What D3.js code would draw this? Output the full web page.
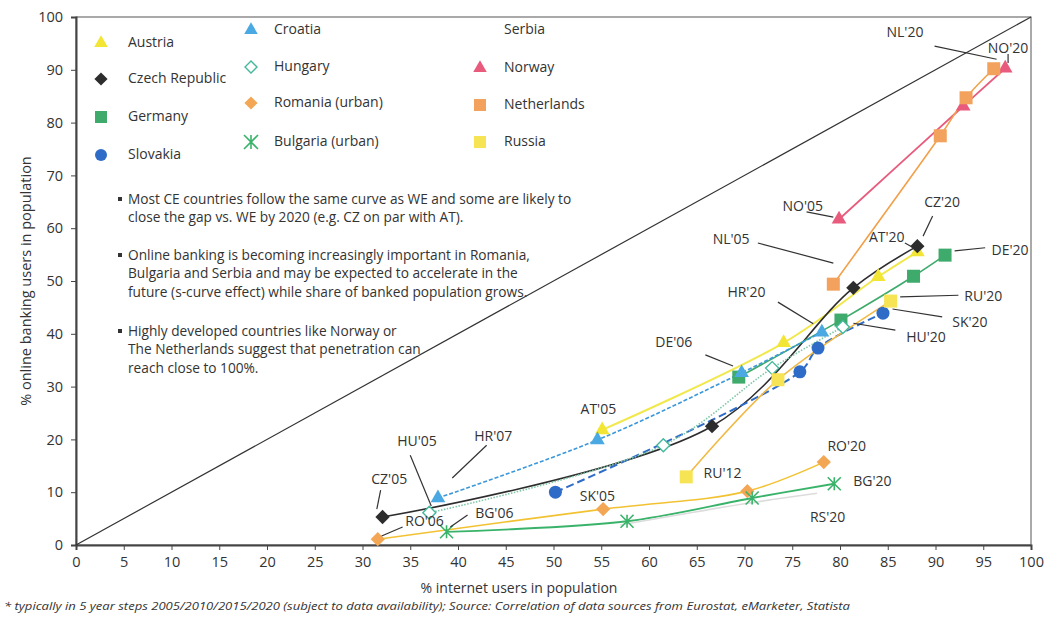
<!DOCTYPE html>
<html>
<head>
<meta charset="utf-8">
<script src="https://cdn.jsdelivr.net/npm/d3@7"></script>
<style>
body { margin: 0; background: #fff; }
svg text { font-family: "Open Sans", Lato, sans-serif; fill: #333; }
</style>
</head>
<body>
<script>
// values: [% internet users, % online banking users]
var austria = [[55.1, 21.8], [74.1, 38.3], [84.0, 50.8], [88.1, 55.5]];
var czech = [[32.1, 5.3], [66.6, 22.5], [81.4, 48.7], [88.1, 56.6]];
var germany = [[69.4, 31.8], [80.1, 42.6], [87.7, 50.9], [91.0, 54.9]];
var slovakia = [[50.2, 10.0], [75.8, 32.8], [77.7, 37.3], [84.5, 43.9]];
var croatia = [[37.9, 8.9], [54.6, 19.9], [69.7, 32.6], [78.1, 40.3]];
var hungary = [[37.0, 6.1], [61.5, 18.9], [72.9, 33.5], [80.3, 41.3]];
var romania = [[31.6, 1.1], [55.2, 6.8], [70.3, 10.2], [78.3, 15.7]];
var bulgaria = [[38.8, 2.5], [57.7, 4.5], [70.8, 8.9], [79.4, 11.6]];
var serbia = [[57.0, 3.8], [70.0, 7.8], [77.6, 9.8]];
var norway = [[79.9, 61.7], [92.9, 83.1], [97.3, 90.3]];
var netherlands = [[79.3, 49.4], [90.5, 77.5], [93.2, 84.7], [96.1, 90.2]];
var russia = [[63.9, 12.9], [73.5, 31.3], [85.3, 46.2]];

var xTicks = d3.range(0, 101, 5);
var yTicks = d3.range(0, 101, 10);

// label text, label position, leader line (data units)
var labels = [
	["NL'20", 86.8, 97.0, [89.9, 94.5, 96.4, 92.0]],
	["NO'20", 97.6, 93.9, [97.6, 93.0, 97.6, 91.3]],
	["NO'05", 76.1, 64.0, [76.5, 63.1, 79.3, 62.1]],
	["CZ'20", 90.7, 64.8, [89.7, 62.3, 88.7, 58.5]],
	["AT'20", 84.9, 58.1, [86.8, 57.2, 87.6, 56.4]],
	["DE'20", 97.8, 55.7, [92.0, 55.7, 95.2, 56.3]],
	["NL'05", 68.6, 57.8, [71.4, 57.2, 79.3, 53.4]],
	["HR'20", 70.2, 47.7, [73.5, 46.0, 77.2, 41.9]],
	["RU'20", 95.0, 47.0, [86.3, 47.0, 92.4, 47.3]],
	["SK'20", 93.6, 42.0, [85.5, 44.7, 90.7, 43.2]],
	["HU'20", 89.0, 39.2, [81.4, 42.0, 85.8, 40.7]],
	["DE'06", 62.6, 38.3, [65.9, 36.0, 68.8, 33.9]],
	["AT'05", 54.7, 25.6, null],
	["HU'05", 35.7, 19.5, [35.0, 17.0, 37.2, 7.4]],
	["HR'07", 43.7, 20.5, [43.0, 18.9, 39.4, 12.7]],
	["CZ'05", 32.8, 12.3, [31.9, 10.4, 31.5, 6.8]],
	["RO'06", 36.5, 4.4, [34.2, 3.4, 32.0, 1.7]],
	["BG'06", 43.8, 5.9, [41.0, 5.7, 39.2, 3.4]],
	["SK'05", 54.6, 9.1, null],
	["RU'12", 67.7, 13.4, null],
	["RO'20", 80.7, 18.6, null],
	["BG'20", 83.4, 11.9, null],
	["RS'20", 78.7, 5.1, null]
];

var notes = [
	["Most CE countries follow the same curve as WE  and some are likely to",
	 "close the gap vs. WE by 2020 (e.g. CZ on par with AT)."],
	["Online banking is becoming increasingly important in Romania,",
	 "Bulgaria and Serbia and may be expected to accelerate in the",
	 "future (s-curve effect) while share of banked population grows."],
	["Highly developed countries like Norway or",
	 "The Netherlands suggest that penetration can",
	 "reach close to 100%."]
];

var series = [
	{name: "Austria", data: austria, shape: "tri", fill: "#f3e533", line: "#f1e84c", dash: null, w: 2},
	{name: "Czech Republic", data: czech, shape: "dia", fill: "#2d2d2d", line: "#2d2d2d", dash: null, w: 1.6},
	{name: "Germany", data: germany, shape: "sq", fill: "#3eaa6b", line: "#3eaa6b", dash: null, w: 1.6},
	{name: "Slovakia", data: slovakia, shape: "circ", fill: "#2f6cc8", line: "#2f6cc8", dash: "8,4", w: 2},
	{name: "Croatia", data: croatia, shape: "tri", fill: "#4aa9e2", line: "#3b98da", dash: "4,2", w: 1.6},
	{name: "Hungary", data: hungary, shape: "odia", fill: "#43b89c", line: "#7fc8a8", dash: "1.5,1.5", w: 1.6},
	{name: "Romania (urban)", data: romania, shape: "dia", fill: "#f3a755", line: "#f2c233", dash: null, w: 1.6},
	{name: "Bulgaria (urban)", data: bulgaria, shape: "ast", fill: "#3ab36a", line: "#3ab36a", dash: null, w: 1.8},
	{name: "Serbia", data: serbia, shape: "none", fill: "#eeeeee", line: "#dcdcdc", dash: null, w: 1.6},
	{name: "Norway", data: norway, shape: "tri", fill: "#e85b7c", line: "#e85b7c", dash: null, w: 1.8},
	{name: "Netherlands", data: netherlands, shape: "sq", fill: "#f2a25c", line: "#f2a04a", dash: null, w: 1.6},
	{name: "Russia", data: russia, shape: "sq", fill: "#f6e455", line: "#f1b944", dash: null, w: 1.6}
];

var W = 1048, H = 622;
var m = {l: 76, r: 17, t: 17, b: 77};
var svg = d3.select("body").append("svg").attr("width", W).attr("height", H);

var x = d3.scaleLinear().domain([0, 100]).range([m.l, W - m.r]);
var y = d3.scaleLinear().domain([0, 100]).range([H - m.b, m.t]);

// frame
svg.append("rect").attr("x", x(0)).attr("y", y(100))
	.attr("width", x(100) - x(0)).attr("height", y(0) - y(100))
	.attr("fill", "none").attr("stroke", "#555").attr("stroke-width", 1);

var xAxis = svg.append("g").attr("transform", "translate(0," + y(0) + ")")
	.call(d3.axisBottom(x).tickValues(xTicks).tickSize(5).tickPadding(7).tickFormat(d3.format("d")));
var yAxis = svg.append("g").attr("transform", "translate(" + x(0) + ",0)")
	.call(d3.axisLeft(y).tickValues(yTicks).tickSize(5).tickPadding(8).tickFormat(d3.format("d")));
[xAxis, yAxis].forEach(function(a) {
	a.select(".domain").attr("stroke", "#444").attr("stroke-width", 2);
	a.selectAll(".tick line").attr("stroke", "#444");
	a.selectAll(".tick text").attr("font-size", 14.5).attr("fill", "#333")
		.attr("font-family", "'Open Sans', sans-serif");
});

svg.append("text").attr("x", 519).attr("y", 593)
	.attr("text-anchor", "middle").attr("font-size", 14).text("% internet users in population");
svg.append("text").attr("transform", "translate(31," + y(50) + ") rotate(-90)")
	.attr("text-anchor", "middle").attr("font-size", 14.5).text("% online banking users in population");
svg.append("text").attr("x", 4).attr("y", 610).attr("font-size", 11).attr("font-style", "italic")
	.attr("textLength", 846).attr("lengthAdjust", "spacingAndGlyphs")
	.text("* typically in 5 year steps 2005/2010/2015/2020 (subject to data availability); Source: Correlation of data sources from Eurostat, eMarketer, Statista");

// diagonal 45 degree line
svg.append("line").attr("x1", x(0)).attr("y1", y(0)).attr("x2", x(100)).attr("y2", y(100))
	.attr("stroke", "#333").attr("stroke-width", 1.2);

// notes
var ny = [200, 256, 332];
notes.forEach(function(block, i) {
	svg.append("rect").attr("x", 118).attr("y", ny[i] - 3).attr("width", 4).attr("height", 4).attr("fill", "#333");
	block.forEach(function(t, j) {
		svg.append("text").attr("x", 128).attr("y", ny[i] + j * 18.7).attr("font-size", 13.7)
			.attr("dominant-baseline", "middle").text(t);
	});
});

function marker(g, shape, fill, s) {
	if (shape === "tri") {
		g.append("path").attr("d", d3.symbol(d3.symbolTriangle, s * s * 0.55)()).attr("fill", fill);
	} else if (shape === "dia") {
		g.append("path").attr("d", "M0,-" + s * 0.55 + "L" + s * 0.55 + ",0L0," + s * 0.55 + "L-" + s * 0.55 + ",0Z").attr("fill", fill);
	} else if (shape === "odia") {
		g.append("path").attr("d", "M0,-" + s * 0.5 + "L" + s * 0.5 + ",0L0," + s * 0.5 + "L-" + s * 0.5 + ",0Z")
			.attr("fill", "#fff").attr("stroke", fill).attr("stroke-width", 1.4);
	} else if (shape === "sq") {
		g.append("rect").attr("x", -s / 2).attr("y", -s / 2).attr("width", s).attr("height", s).attr("fill", fill);
	} else if (shape === "circ") {
		g.append("circle").attr("r", s / 2).attr("fill", fill);
	} else if (shape === "ast") {
		var r = s / 2;
		g.append("path").attr("d", "M-" + r + ",-" + r + "L" + r + "," + r + "M" + r + ",-" + r + "L-" + r + "," + r + "M0,-" + r + "L0," + r)
			.attr("stroke", fill).attr("stroke-width", 1.6).attr("fill", "none");
	}
}

// series lines and markers
var line = d3.line().x(function(d) { return x(d[0]); }).y(function(d) { return y(d[1]); })
	.curve(d3.curveCatmullRom.alpha(0.5));

series.forEach(function(s) {
	svg.append("path").datum(s.data).attr("d", line).attr("fill", "none")
		.attr("stroke", s.line).attr("stroke-width", s.w)
		.attr("stroke-dasharray", s.dash);
});
series.forEach(function(s) {
	s.data.forEach(function(d) {
		var g = svg.append("g").attr("transform", "translate(" + x(d[0]) + "," + y(d[1]) + ")");
		marker(g, s.shape, s.fill, 13);
	});
});

// point labels and leader lines
labels.forEach(function(l) {
	if (l[3]) {
		svg.append("line").attr("x1", x(l[3][0])).attr("y1", y(l[3][1]))
			.attr("x2", x(l[3][2])).attr("y2", y(l[3][3]))
			.attr("stroke", "#333").attr("stroke-width", 1.2);
	}
	svg.append("text").attr("x", x(l[1])).attr("y", y(l[2])).attr("text-anchor", "middle")
		.attr("dominant-baseline", "middle").attr("font-size", 14).text(l[0]);
});

// legend: three columns
var legCols = [
	{mx: 101, tx: 128, ys: [43, 79, 117, 155], items: [0, 1, 2, 3]},
	{mx: 251, tx: 274, ys: [30, 67, 103, 142], items: [4, 5, 6, 7]},
	{mx: 480, tx: 504, ys: [30, 68, 105, 142], items: [8, 9, 10, 11]}
];
legCols.forEach(function(c) {
	c.items.forEach(function(k, i) {
		var s = series[k];
		var g = svg.append("g").attr("transform", "translate(" + c.mx + "," + c.ys[i] + ")");
		marker(g, s.shape === "none" ? "none" : s.shape, s.fill, s.shape === "ast" ? 14 : 12);
		svg.append("text").attr("x", c.tx).attr("y", c.ys[i]).attr("dominant-baseline", "middle")
			.attr("font-size", 14).text(s.name);
	});
});
</script>
</body>
</html>
